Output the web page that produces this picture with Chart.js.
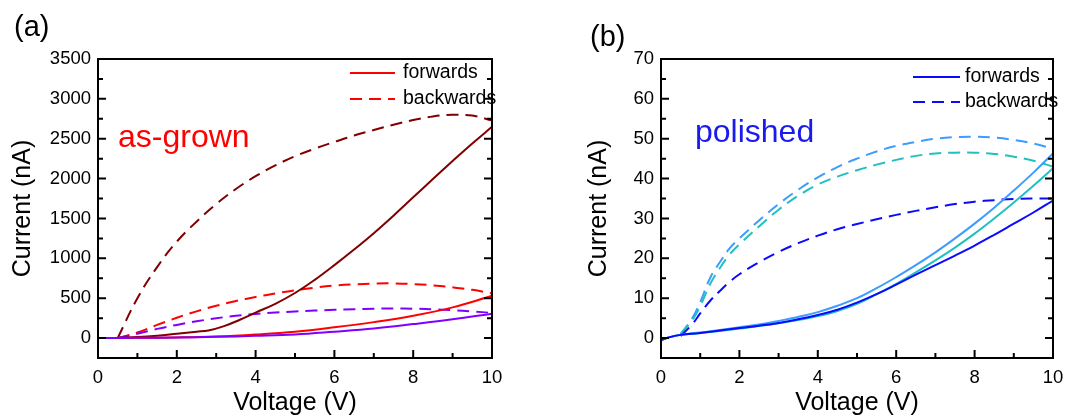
<!DOCTYPE html>
<html>
<head>
<meta charset="utf-8">
<script src="https://cdn.jsdelivr.net/npm/chart.js@4/dist/chart.umd.min.js"></script>
<style>
html, body { margin: 0; padding: 0; background: #fff; }
#wrap { display: flex; width: 1088px; height: 419px; }
canvas { display: block; }
</style>
</head>
<body>
<div id="wrap">
  <canvas id="chartA" width="544" height="419"></canvas>
  <canvas id="chartB" width="544" height="419"></canvas>
</div>
<script>
// tick labels
const xTicks = [0, 2, 4, 6, 8, 10];
const yTicksA = [0, 500, 1000, 1500, 2000, 2500, 3000, 3500];
const yTicksB = [0, 10, 20, 30, 40, 50, 60, 70];

// (a) as-grown, voltage (V) / current (nA)
const vDarkFwdA = [0, 0.5, 1, 1.5, 2, 2.5, 2.8, 3.2, 3.6, 4, 4.5, 5, 5.5, 6, 6.5, 7, 7.5, 8, 8.5, 9, 9.5, 10];
const iDarkFwdA = [0, 2, 12, 30, 55, 80, 95, 150, 230, 320, 430, 565, 730, 915, 1110, 1315, 1535, 1765, 1995, 2220, 2440, 2650];
const vFwdA = [0, 1, 2, 3, 4, 5, 6, 7, 8, 9, 10];
const iRedFwdA = [0, 3, 8, 20, 45, 80, 135, 200, 280, 385, 530];
const iPurpFwdA = [0, 3, 8, 15, 28, 45, 80, 120, 175, 235, 305];
const vBwdA = [0.5, 1, 1.5, 2, 2.5, 3, 3.5, 4, 4.5, 5, 5.5, 6, 6.5, 7, 7.5, 8, 8.5, 9, 9.5, 10];
const iDarkBwdA = [0, 500, 890, 1210, 1460, 1680, 1870, 2030, 2165, 2280, 2375, 2460, 2540, 2610, 2675, 2735, 2780, 2800, 2790, 2730];
const iRedBwdA = [0, 70, 165, 255, 335, 405, 465, 515, 560, 600, 632, 658, 674, 684, 686, 677, 661, 637, 605, 560];
const iPurpBwdA = [0, 55, 115, 165, 210, 248, 280, 303, 320, 334, 345, 355, 362, 368, 370, 368, 362, 350, 335, 315];

// (b) polished
const vFwdB = [0, 0.25, 0.5, 1, 1.5, 2, 2.5, 3, 3.5, 4, 4.5, 5, 5.5, 6, 6.5, 7, 7.5, 8, 8.5, 9, 9.5, 10];
const iLightFwdB = [-0.5, 0.3, 0.8, 1.4, 2, 2.7, 3.4, 4.3, 5.3, 6.5, 8.1, 10, 12.5, 15.3, 18.3, 21.5, 25, 28.7, 32.7, 37, 41.5, 46.3];
const iTealFwdB = [-0.5, 0.3, 0.8, 1.3, 1.8, 2.4, 3, 3.7, 4.5, 5.5, 6.8, 8.6, 11, 13.6, 16.5, 19.5, 22.7, 26.2, 30, 34, 38.2, 42.6];
const iBlueFwdB = [-0.5, 0.3, 0.8, 1.3, 1.9, 2.5, 3.1, 3.8, 4.7, 5.8, 7.1, 8.9, 11, 13.4, 15.9, 18.3, 20.7, 23.2, 25.9, 28.7, 31.5, 34.5];
const vBwdB = [0.5, 0.8, 1, 1.25, 1.5, 1.75, 2, 2.5, 3, 3.5, 4, 4.5, 5, 5.5, 6, 6.5, 7, 7.5, 8, 8.5, 9, 9.5, 10];
const iLightBwdB = [1, 5, 9, 15, 19, 22.5, 25, 29.5, 33.6, 37.2, 40.3, 42.9, 45, 46.8, 48.2, 49.2, 50, 50.4, 50.5, 50.3, 49.7, 48.8, 47.5];
const iTealBwdB = [1, 4.5, 8, 13.5, 17.5, 21, 23.5, 28, 32.2, 35.7, 38.5, 40.5, 42.1, 43.5, 44.7, 45.7, 46.3, 46.5, 46.5, 46.2, 45.5, 44.5, 43];
const iBlueBwdB = [0.5, 3.5, 6.2, 9.3, 11.8, 14.1, 16, 19, 21.6, 23.8, 25.7, 27.3, 28.6, 29.8, 30.9, 31.9, 32.8, 33.6, 34.2, 34.6, 34.9, 35, 35];

const FONT = 'Arial, "Liberation Sans", sans-serif';
const DASH = [12, 7];

function series(xs, ys, color, dashed) {
    return {
        data: xs.map((v, i) => ({ x: v, y: ys[i] })),
        borderColor: color,
        borderWidth: 2,
        borderDash: dashed ? DASH : [],
        pointRadius: 0,
        tension: 0.4,
        fill: false
    };
}

// frame, inward ticks, legend and labels
const framePlugin = {
    id: 'frame',
    afterDraw(chart, args, opts) {
        const { ctx, chartArea: a, scales: { x, y } } = chart;
        ctx.save();
        ctx.strokeStyle = '#000';
        ctx.lineWidth = 2;
        ctx.strokeRect(a.left, a.top, a.width, a.height);

        ctx.beginPath();
        const xv = x.ticks.map(t => t.value);
        xv.forEach((v, i) => {
            const p = x.getPixelForValue(v);
            ctx.moveTo(p, a.bottom); ctx.lineTo(p, a.bottom - 8);
            if (i < xv.length - 1) {
                const m = x.getPixelForValue((v + xv[i + 1]) / 2);
                ctx.moveTo(m, a.bottom); ctx.lineTo(m, a.bottom - 5);
            }
        });
        const yv = y.ticks.map(t => t.value);
        yv.forEach((v, i) => {
            const p = y.getPixelForValue(v);
            ctx.moveTo(a.left, p); ctx.lineTo(a.left + 8, p);
            ctx.moveTo(a.right, p); ctx.lineTo(a.right - 8, p);
            if (i < yv.length - 1) {
                const m = y.getPixelForValue((v + yv[i + 1]) / 2);
                ctx.moveTo(a.left, m); ctx.lineTo(a.left + 5, m);
                ctx.moveTo(a.right, m); ctx.lineTo(a.right - 5, m);
            }
        });
        ctx.stroke();

        // legend
        const lg = opts.legend;
        ctx.strokeStyle = lg.color;
        ctx.lineWidth = 2;
        ctx.setLineDash([]);
        ctx.beginPath(); ctx.moveTo(lg.x1, lg.y1); ctx.lineTo(lg.x2, lg.y1); ctx.stroke();
        ctx.setLineDash(DASH);
        ctx.beginPath(); ctx.moveTo(lg.x1, lg.y2); ctx.lineTo(lg.x2, lg.y2); ctx.stroke();
        ctx.setLineDash([]);
        ctx.fillStyle = '#000';
        ctx.font = '19.5px ' + FONT;
        ctx.textBaseline = 'middle';
        ctx.textAlign = 'left';
        ctx.fillText('forwards', lg.tx, lg.y1);
        ctx.fillText('backwards', lg.tx, lg.y2);

        // sample note
        ctx.textBaseline = 'alphabetic';
        ctx.fillStyle = opts.note.color;
        ctx.font = '32px ' + FONT;
        ctx.fillText(opts.note.text, opts.note.x, opts.note.y);

        // panel label
        ctx.fillStyle = '#000';
        ctx.font = '29px ' + FONT;
        ctx.fillText(opts.panel.text, opts.panel.x, opts.panel.y);
        ctx.restore();
    }
};

function makeChart(id, datasets, yTicks, yMin, yMax, yWidth, padRight, titlePad, frameOpts) {
    const tickFont = { family: FONT, size: 18.5 };
    const titleFont = { family: FONT, size: 25 };
    return new Chart(document.getElementById(id), {
        type: 'line',
        data: { datasets: datasets },
        options: {
            responsive: false,
            animation: false,
            layout: { padding: { left: 0, right: padRight, top: 59, bottom: 0 } },
            scales: {
                x: {
                    type: 'linear',
                    min: 0,
                    max: 10,
                    afterBuildTicks: s => { s.ticks = xTicks.map(v => ({ value: v })); },
                    afterFit: s => { s.height = 61; },
                    grid: { display: false, drawTicks: false },
                    border: { display: false },
                    ticks: { font: tickFont, color: '#000', padding: 9, maxRotation: 0, autoSkip: false,
                             callback: v => String(v) },
                    title: { display: true, text: 'Voltage (V)', font: titleFont, color: '#000', padding: { top: 0, bottom: 1 } }
                },
                y: {
                    type: 'linear',
                    min: yMin,
                    max: yMax,
                    afterBuildTicks: s => { s.ticks = yTicks.map(v => ({ value: v })); },
                    afterFit: s => { s.width = yWidth; },
                    grid: { display: false, drawTicks: false },
                    border: { display: false },
                    ticks: { font: tickFont, color: '#000', padding: 7, autoSkip: false,
                             callback: v => String(v) },
                    title: { display: true, text: 'Current (nA)', font: titleFont, color: '#000', padding: { top: titlePad, bottom: 0 } }
                }
            },
            plugins: {
                legend: { display: false },
                tooltip: { enabled: false },
                frame: frameOpts
            }
        },
        plugins: [framePlugin]
    });
}

const darkRed = '#800000', red = '#ff0000', purple = '#8000ff';
const blue = '#0a0aff', teal = '#20c0c0', lightBlue = '#3c9cff';

makeChart('chartA', [
    series(vFwdA, iPurpFwdA, purple, false),
    series(vFwdA, iRedFwdA, red, false),
    series(vDarkFwdA, iDarkFwdA, darkRed, false),
    series(vBwdA, iPurpBwdA, purple, true),
    series(vBwdA, iRedBwdA, red, true),
    series(vBwdA, iDarkBwdA, darkRed, true)
], yTicksA, -250, 3500, 98, 52, 8, {
    legend: { color: red, x1: 350, x2: 395, y1: 73, y2: 99, tx: 403 },
    note: { text: 'as-grown', color: red, x: 118, y: 147 },
    panel: { text: '(a)', x: 14, y: 36 }
});

makeChart('chartB', [
    series(vFwdB, iBlueFwdB, blue, false),
    series(vFwdB, iTealFwdB, teal, false),
    series(vFwdB, iLightFwdB, lightBlue, false),
    series(vBwdB, iBlueBwdB, blue, true),
    series(vBwdB, iTealBwdB, teal, true),
    series(vBwdB, iLightBwdB, lightBlue, true)
], yTicksB, -5, 70, 117, 35, 40, {
    legend: { color: blue, x1: 369, x2: 416, y1: 77, y2: 102, tx: 421 },
    note: { text: 'polished', color: '#1a1aee', x: 151, y: 142 },
    panel: { text: '(b)', x: 46, y: 46 }
});
</script>
</body>
</html>
